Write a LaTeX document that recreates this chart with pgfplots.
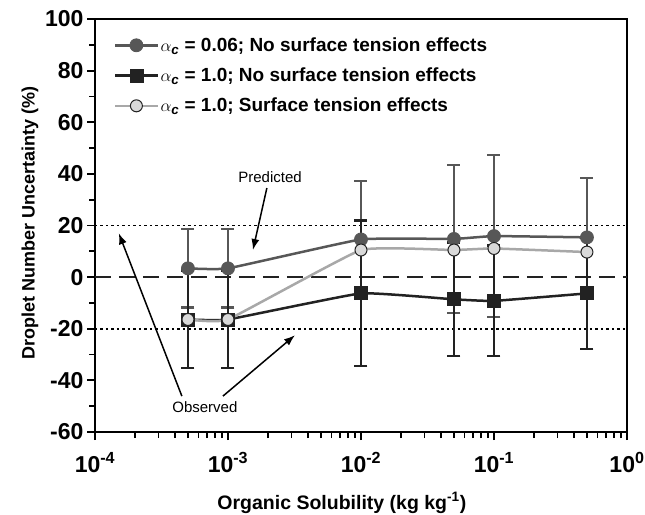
\documentclass[border=0pt]{standalone}
\usepackage{pgfplots}
\pgfplotsset{compat=1.18}
\usepackage{amsmath}
\usepackage{fontspec}
\setmainfont{Liberation Sans}
\usetikzlibrary{arrows.meta}
\definecolor{sone}{HTML}{575757}
\definecolor{stwo}{HTML}{222222}
\definecolor{sthreeline}{HTML}{A8A8A8}
\definecolor{sthreefill}{HTML}{D9D9D9}
\begin{document}
\begin{tikzpicture}
\begin{axis}[
  at={(0pt,0pt)}, anchor=south west,
  scale only axis, width=532pt, height=413pt,
  xmode=log, xmin=1e-4, xmax=1, ymin=-60, ymax=100,
  axis line style={line width=1.8pt},
  xtick={1e-4,1e-3,1e-2,1e-1,1},
  xticklabels={10\textsuperscript{-4},10\textsuperscript{-3},10\textsuperscript{-2},10\textsuperscript{-1},10\textsuperscript{0}},
  minor xtick={2e-4,3e-4,4e-4,5e-4,6e-4,7e-4,8e-4,9e-4,2e-3,3e-3,4e-3,5e-3,6e-3,7e-3,8e-3,9e-3,2e-2,3e-2,4e-2,5e-2,6e-2,7e-2,8e-2,9e-2,2e-1,3e-1,4e-1,5e-1,6e-1,7e-1,8e-1,9e-1},
  ytick={-60,-40,-20,0,20,40,60,80,100},
  yticklabels={-60,-40,-20,0,20,40,60,80,100},
  minor ytick={-50,-30,-10,10,30,50,70,90},
  xtick pos=bottom, ytick pos=left, tick align=outside,
  major tick length=8pt, minor tick length=6pt,
  tick style={line width=1.8pt, black},
  ticklabel style={font=\fontsize{23}{23}\selectfont\bfseries},
  xticklabel style={yshift=-9pt},
  ylabel={Droplet Number Uncertainty (\%)},
  xlabel={Organic Solubility (kg kg\textsuperscript{-1})},
  every axis y label/.style={at={(axis description cs:-0.122,0.505)}, rotate=90, anchor=center, font=\fontsize{18}{18}\selectfont\bfseries},
  every axis x label/.style={at={(axis description cs:0.464,-0.172)}, anchor=center, font=\fontsize{19.5}{20}\selectfont\bfseries},
  legend style={draw=none, fill=none, at={(axis description cs:0.03,0.965)}, anchor=north west,
    font=\fontsize{19}{21}\selectfont\bfseries, row sep=11pt},
  legend cell align=left,
  legend image code/.code={\draw[mark repeat=2,mark phase=2,#1] plot coordinates {(0pt,0pt) (21pt,0pt) (42pt,0pt)};},
]
% reference lines
\addplot[forget plot, black, line width=1.8pt, dash pattern=on 2.5pt off 3pt] coordinates {(1e-4,20) (1,20)};
\addplot[forget plot, black, line width=1.8pt, dash pattern=on 2.5pt off 3pt] coordinates {(1e-4,-20) (1,-20)};
\addplot[forget plot, stwo, line width=2.5pt, dash pattern=on 16pt off 8pt] coordinates {(1e-4,0) (1,0)};

% series 1
\addplot[color=sone, line width=2.5pt, smooth, tension=0.2,
  mark=*, mark size=6.5pt, mark options={fill=sone, draw=sone, line width=0.8pt, solid},
  error bars/.cd, y dir=both, y explicit,
  error bar style={line width=2.4pt, color=sone},
  error mark options={rotate=90, mark size=6.5pt, line width=2.4pt, color=sone}]
  table[x=x, y=y, y error=e] {
x y e
5e-4 3.4 15.2
1e-3 3.4 15.2
1e-2 14.6 22.6
5e-2 14.8 28.6
1e-1 15.9 31.4
5e-1 15.4 23.0
};
\addlegendentry{$\alpha_{\textbf{\textit{c}}}$ = 0.06; No surface tension effects}

% series 2
\addplot[color=stwo, line width=2.5pt, smooth, tension=0.2,
  mark=square*, mark size=6.5pt, mark options={fill=stwo, draw=stwo, line width=0.8pt, solid},
  error bars/.cd, y dir=both, y explicit,
  error bar style={line width=2.4pt, color=stwo},
  error mark options={rotate=90, mark size=6.5pt, line width=2.4pt, color=stwo}]
  table[x=x, y=y, y error=e] {
x y e
5e-4 -16.4 18.9
1e-3 -16.4 18.9
1e-2 -6.3 28.2
5e-2 -8.6 22.0
1e-1 -9.2 21.4
5e-1 -6.3 21.6
};
\addlegendentry{$\alpha_{\textbf{\textit{c}}}$ = 1.0; No surface tension effects}

% series 3
\addplot[color=sthreeline, line width=2.5pt, smooth, tension=0.2,
  mark=*, mark size=6pt, mark options={fill=sthreefill, draw=stwo, line width=1pt, solid}]
  table[x=x, y=y] {
x y
5e-4 -16.4
1e-3 -16.4
1e-2 10.5
5e-2 10.5
1e-1 11.1
5e-1 9.7
};
\addlegendentry{$\alpha_{\textbf{\textit{c}}}$ = 1.0; Surface tension effects}

% annotations
\node[font=\fontsize{15}{15}\selectfont] at (axis cs:2.07e-3,38.8) {Predicted};
\draw[line width=1.5pt, -{Latex[length=11pt,width=8pt]}] (axis cs:1.96e-3,34.5) -- (axis cs:1.54e-3,10.5);
\node[font=\fontsize{15}{15}\selectfont] at (axis cs:6.7e-4,-50.4) {Observed};
\draw[line width=1.5pt, -{Latex[length=11pt,width=8pt]}] (axis cs:4.5e-4,-46.1) -- (axis cs:1.51e-4,17);
\draw[line width=1.5pt, -{Latex[length=11pt,width=8pt]}] (axis cs:9.16e-4,-46.1) -- (axis cs:3.19e-3,-22.5);
\end{axis}
\pgfresetboundingbox
\path (-95pt,-82pt) rectangle (550pt,432pt);
\end{tikzpicture}
\end{document}
